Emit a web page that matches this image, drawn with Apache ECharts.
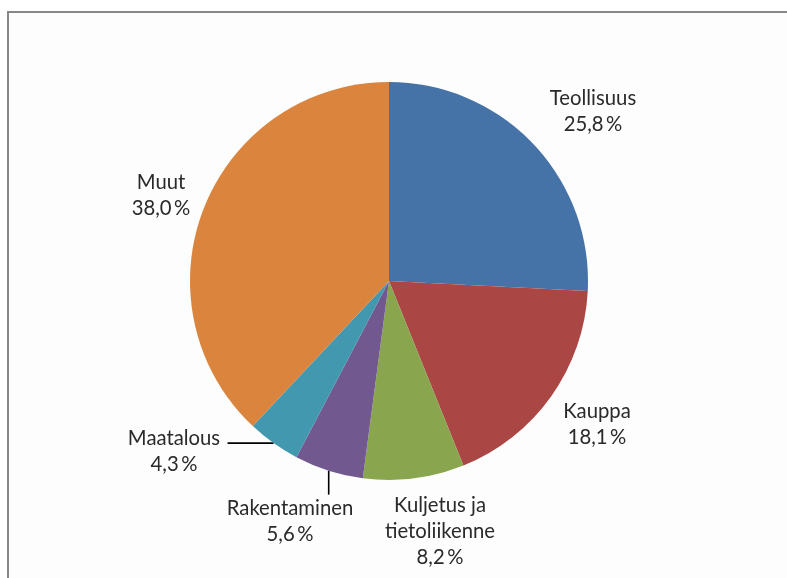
<!DOCTYPE html>
<html><head><meta charset="utf-8">
<script src="https://cdn.jsdelivr.net/npm/echarts@6/dist/echarts.min.js"></script>
<style>html,body{margin:0;padding:0;background:#fff}#c{width:787px;height:578px}</style>
</head><body><div id="c"></div>
<script>
const categories = ['Teollisuus', 'Kauppa', 'Kuljetus ja\ntietoliikenne', 'Rakentaminen', 'Maatalous', 'Muut'];
const values = [25.8, 18.1, 8.2, 5.6, 4.3, 38.0];
const colors = ['#4572A7', '#AA4643', '#89A54E', '#71588F', '#4198AF', '#DB843D'];
// label block centres (layout only)
const labelCenters = [[593, 111], [597, 424], [440, 531], [290, 521], [174, 451], [161, 195]];

function fmt(v) { return v.toFixed(1).replace('.', ',') + '\u2009%'; }

const chart = echarts.init(document.getElementById('c'), null, {renderer: 'canvas'});
chart.setOption({
  animation: false,
  backgroundColor: '#ffffff',
  graphic: [{
    type: 'rect', left: 7, top: 11, silent: true, z: -10,
    shape: {width: 900, height: 700},
    style: {fill: '#fdfdfd', stroke: '#878787', lineWidth: 2}
  }],
  series: [{
    type: 'pie',
    center: [389, 281],
    radius: 199,
    startAngle: 90,
    clockwise: true,
    avoidLabelOverlap: false,
    emphasis: {disabled: true},
    itemStyle: {borderWidth: 0},
    label: {
      show: true, position: 'outside',
      fontFamily: 'Lato', fontSize: 20.3, lineHeight: 26, color: '#2a2a2a',
      formatter: p => p.name + '\n' + fmt(p.value)
    },
    labelLine: {show: true, length: 0, length2: 40, smooth: false,
      lineStyle: {color: '#000', width: 1.6}},
    labelLayout: function (params) {
      const i = params.dataIndex;
      const c = labelCenters[i];
      const out = {x: c[0], y: c[1], align: 'center', verticalAlign: 'middle'};
      const pts = params.labelLinePoints;
      if (pts && pts.length) {
        const p0 = pts[0];
        if (i === 4) out.labelLinePoints = [[p0[0], p0[1]], [p0[0] - 46, p0[1]]];
        else if (i === 3) out.labelLinePoints = [[p0[0], p0[1]], [p0[0], p0[1] + 24]];
      }
      return out;
    },
    data: categories.map((n, i) => ({
      name: n, value: values[i],
      itemStyle: {color: colors[i]},
      labelLine: {show: i === 3 || i === 4}
    }))
  }]
});
</script></body></html>
